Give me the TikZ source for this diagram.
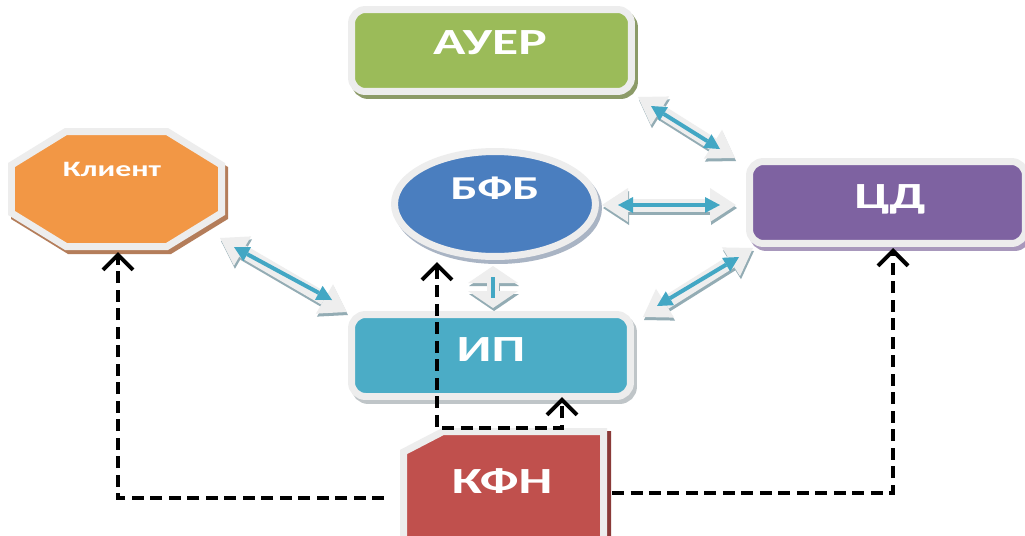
\documentclass[tikz,border=0pt]{standalone}
\usepackage{fontspec}
\setmainfont{Carlito}
\newfontfamily\lblfont[FakeStretch=1.45]{Carlito}
\usetikzlibrary{arrows.meta,shapes.geometric,shadows}
\definecolor{cframe}{HTML}{EDEDED}
\definecolor{cgreen}{HTML}{9BBB59}
\definecolor{cgreenS}{HTML}{8C9B68}
\definecolor{corange}{HTML}{F29745}
\definecolor{corangeS}{HTML}{B47D5A}
\definecolor{cblue}{HTML}{4A7EBF}
\definecolor{cblueS}{HTML}{A9B4C4}
\definecolor{cpurple}{HTML}{7E62A1}
\definecolor{cpurpleS}{HTML}{A898BC}
\definecolor{ccyan}{HTML}{4BACC6}
\definecolor{ccyanS}{HTML}{BFC5C8}
\definecolor{cred}{HTML}{C0504D}
\definecolor{credS}{HTML}{8A3A38}
\definecolor{cabody}{HTML}{EEEEEE}
\definecolor{cashadow}{HTML}{93ACB4}
\definecolor{cacore}{HTML}{43A7C4}
\tikzset{
  frame/.style={draw=cframe, line width=0.14cm, inner sep=0pt},
  rbox/.style={frame, rectangle, rounded corners=0.28cm, minimum width=5.6cm, minimum height=1.64cm},
  shad/.style={drop shadow={shadow xshift=0.06cm, shadow yshift=-0.08cm, fill=#1, draw=#1, line width=0.14cm, opacity=1}},
  lbl/.style={text=white, anchor=base, inner sep=0pt, font=\lblfont\bfseries\fontsize{#1}{#1}\selectfont},
  dashline/.style={draw=black, line width=0.065cm, dash pattern=on 0.24cm off 0.13cm,
    -{Straight Barb[length=0.3cm,width=0.6cm,line width=0.08cm]}},
  dashdbl/.style={dashline, {Straight Barb[length=0.3cm,width=0.6cm,line width=0.08cm]}-{Straight Barb[length=0.3cm,width=0.6cm,line width=0.08cm]}},
  bshadow/.style={draw=cashadow, line width=0.26cm,
    {Triangle[width=0.68cm,length=0.52cm,line width=0pt]}-{Triangle[width=0.68cm,length=0.52cm,line width=0pt]}},
  bbody/.style={draw=cabody, line width=0.26cm,
    {Triangle[width=0.68cm,length=0.52cm,line width=0pt]}-{Triangle[width=0.68cm,length=0.52cm,line width=0pt]}},
  bcore/.style={draw=cacore, line width=0.08cm,
    {Triangle[width=0.32cm,length=0.3cm,line width=0pt]}-{Triangle[width=0.32cm,length=0.3cm,line width=0pt]}},
}
\newcommand\dblarrow[4]{%
  \draw[bshadow] ([shift={(1,3)}]#1) -- ([shift={(1,3)}]#2);
  \draw[bbody] (#1) -- (#2);
  \draw[bcore] (#3) -- (#4);}
\newcommand\octagon[1]{\draw[#1] (66,131.5) -- (167,131.5) -- (221.5,165) -- (221.5,213) -- (167,246.5) -- (66,246.5) -- (11.5,213) -- (11.5,165) -- cycle;}
\newcommand\kfnshape[1]{\draw[#1] (443,431.5) -- (603.5,431.5) -- (603.5,560) -- (403.5,560) -- (403.5,452) -- cycle;}
\begin{document}
\begin{tikzpicture}[x=0.02cm,y=-0.02cm]
\useasboundingbox[fill=white] (0,0) rectangle (1025,535);
\clip (0,0) rectangle (1025,535);

% block double arrows (coordinates)
\coordinate (a1s) at (638,97);  \coordinate (a1e) at (735,158);
\coordinate (a1i) at (651,106); \coordinate (a1j) at (720,149);
\coordinate (a2s) at (220,238); \coordinate (a2e) at (347,312);
\coordinate (a2i) at (234,247); \coordinate (a2j) at (332,300);
\coordinate (a3s) at (602,205); \coordinate (a3e) at (736,205);
\coordinate (a3i) at (618,205); \coordinate (a3j) at (720,205);
\coordinate (a4s) at (643,317); \coordinate (a4e) at (753,248);
\coordinate (a4i) at (657,306); \coordinate (a4j) at (739,257);
\coordinate (a5s) at (493,266); \coordinate (a5e) at (493,308);
\coordinate (a5i) at (493,277); \coordinate (a5j) at (493,298);

\dblarrow{a1s}{a1e}{a1i}{a1j}
\dblarrow{a2s}{a2e}{a2i}{a2j}
\dblarrow{a3s}{a3e}{a3i}{a3j}
\dblarrow{a4s}{a4e}{a4i}{a4j}
\draw[draw=cashadow, line width=0.24cm, {Triangle[width=1.0cm,length=0.34cm,line width=0pt]}-{Triangle[width=1.0cm,length=0.34cm,line width=0pt]}] ([shift={(1,3)}]a5s) -- ([shift={(1,3)}]a5e);
\draw[draw=cabody, line width=0.24cm, {Triangle[width=1.0cm,length=0.34cm,line width=0pt]}-{Triangle[width=1.0cm,length=0.34cm,line width=0pt]}] (a5s) -- (a5e);
\draw[draw=cacore, line width=0.08cm] (a5i) -- (a5j);

% nodes
\node[rbox, fill=cgreen, shad=cgreenS] (auer) at (491.5,50.5) {};
\node[lbl=21] (auerT) at (490,54) {АУЕР};

\octagon{draw=corangeS, fill=corangeS, line width=0.14cm, shift={(3,4)}}
\octagon{draw=cframe, fill=corange, line width=0.14cm}
\node[inner sep=0pt, minimum width=4.2cm, minimum height=2.3cm] (client) at (116.5,189) {};
\node[lbl=12.5] (clientT) at (112,176) {Клиент};

\node[ellipse, frame, fill=cblue, minimum width=4.02cm, minimum height=2.1cm, shad=cblueS] (bfb) at (495,204) {};
\node[lbl=19] (bfbT) at (495,199) {БФБ};

\node[rbox, fill=cpurple, minimum width=5.52cm, shad=cpurpleS] (cd) at (887.5,202.5) {};
\node[lbl=21] (cdT) at (890,208) {ЦД};

\node[rbox, fill=ccyan, minimum width=5.58cm, shad=ccyanS] (ip) at (491,355.5) {};
\node[lbl=21] (ipT) at (491,361) {ИП};

\kfnshape{draw=credS, fill=credS, line width=0.14cm, shift={(4,3)}}
\kfnshape{draw=cframe, fill=cred, line width=0.14cm}
\node[inner sep=0pt, minimum width=4cm, minimum height=2.57cm] (kfn) at (503.5,495.75) {};
\node[lbl=21] (kfnT) at (502,493) {КФН};

% dashed connectors
\coordinate (kL) at (384,498);
\coordinate (clTip) at (118,252);
\coordinate (kR) at (612,493);
\coordinate (cdTip) at (893,248);
\coordinate (bTip) at (437,262);
\coordinate (mL) at (437,428);
\coordinate (mR) at (562,428);
\coordinate (ipTip) at (562,397);
\draw[dashline] (kL) -| (clTip);
\draw[dashline] (kR) -| (cdTip);
\draw[dashdbl] (bTip) -- (mL) -- (mR) -- (ipTip);
\end{tikzpicture}
\end{document}
